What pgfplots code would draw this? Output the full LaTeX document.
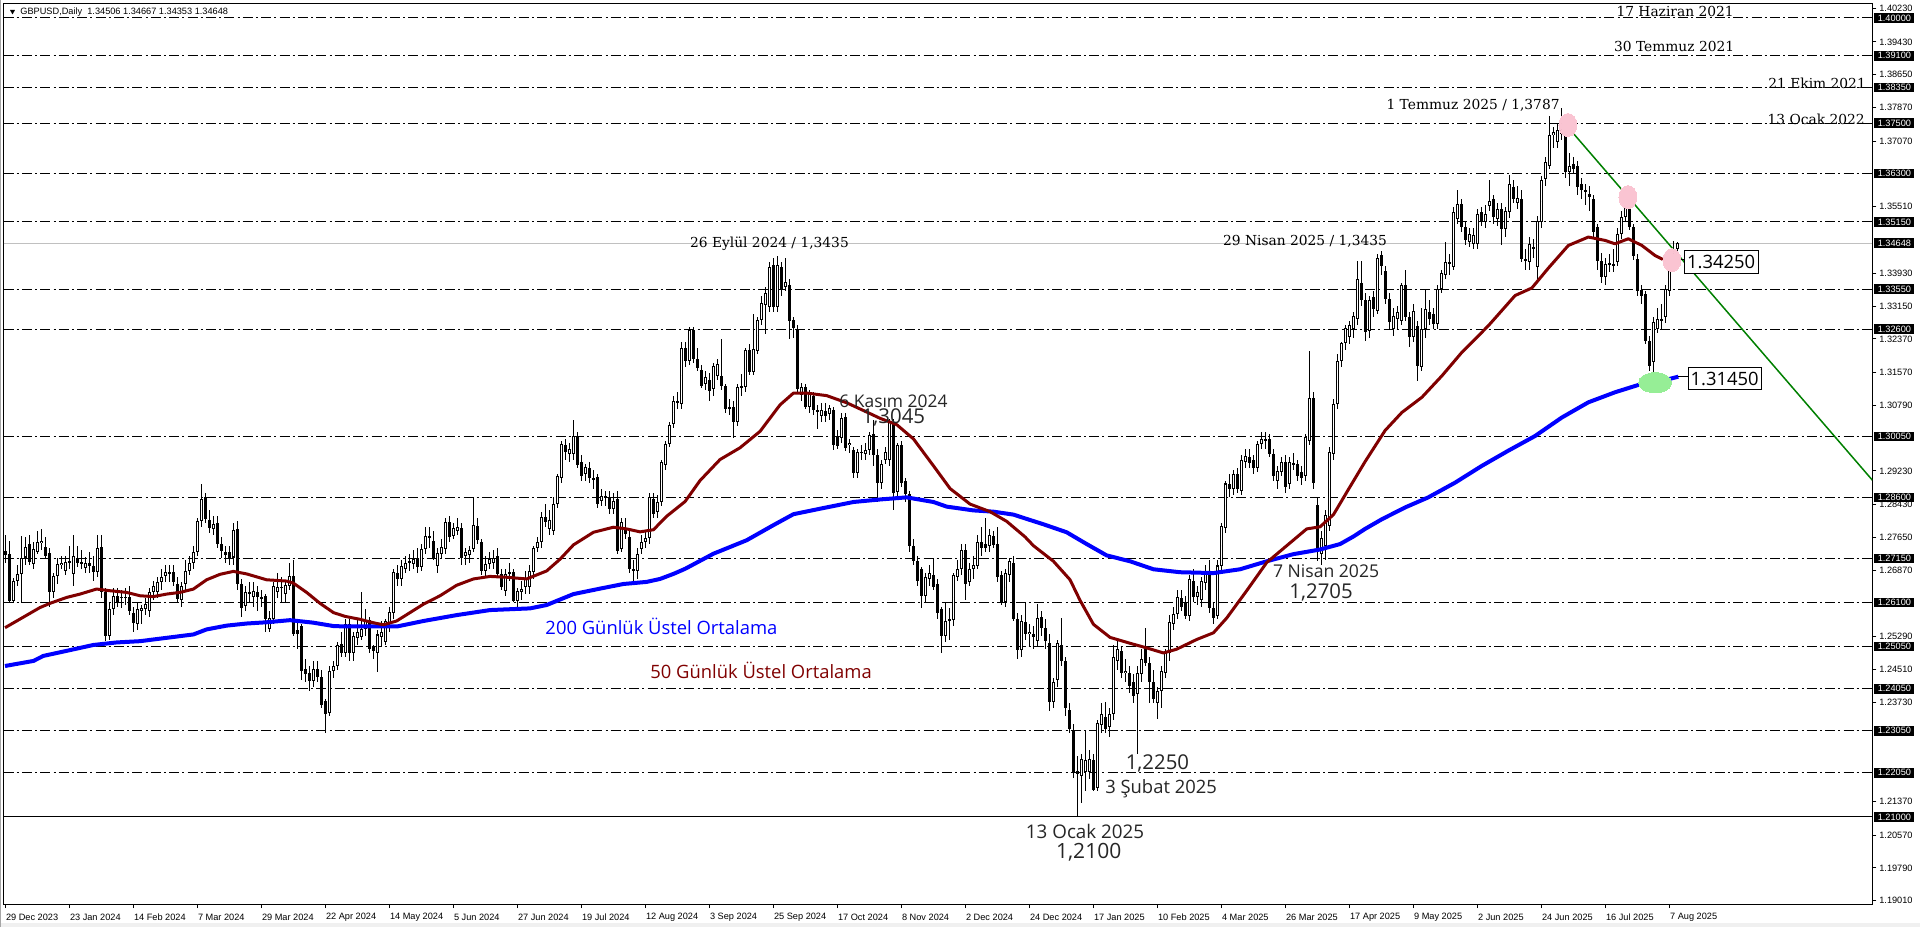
\documentclass[border=0pt]{standalone}
\usepackage{pgfplots}
\pgfplotsset{compat=1.18}
\usepackage{pgfplotstable}
\usepackage{fontspec}
\setmainfont{Liberation Sans}
\newfontfamily\segoe{Open Sans}
\newfontfamily\georgia{DejaVu Serif}
\definecolor{emared}{RGB}{128,0,0}
\definecolor{emablue}{RGB}{0,0,255}
\definecolor{trend}{RGB}{0,128,0}
\definecolor{pinkc}{RGB}{250,196,210}
\definecolor{greenc}{RGB}{150,238,150}
\definecolor{pricegrey}{RGB}{192,192,192}

\pgfplotstableread{
i o h l c
0 1.2733 1.2770 1.2705 1.2722
1 1.2725 1.2757 1.2612 1.2614
2 1.2614 1.2668 1.2610 1.2662
3 1.2662 1.2700 1.2650 1.2679
4 1.2679 1.2768 1.2610 1.2717
5 1.2717 1.2765 1.2700 1.2742
6 1.2750 1.2770 1.2700 1.2707
7 1.2701 1.2755 1.2690 1.2738
8 1.2731 1.2780 1.2725 1.2755
9 1.2752 1.2785 1.2735 1.2757
10 1.2742 1.2765 1.2715 1.2721
11 1.2729 1.2740 1.2600 1.2634
12 1.2634 1.2680 1.2620 1.2674
13 1.2674 1.2715 1.2655 1.2701
14 1.2700 1.2720 1.2690 1.2705
15 1.2685 1.2720 1.2675 1.2707
16 1.2706 1.2745 1.2690 1.2709
17 1.2677 1.2770 1.2650 1.2721
18 1.2717 1.2745 1.2695 1.2705
19 1.2703 1.2735 1.2690 1.2706
20 1.2693 1.2718 1.2680 1.2705
21 1.2705 1.2730 1.2680 1.2697
22 1.2697 1.2720 1.2660 1.2682
23 1.2682 1.2770 1.2670 1.2739
24 1.2741 1.2770 1.2620 1.2634
25 1.2634 1.2645 1.2518 1.2530
26 1.2530 1.2610 1.2520 1.2595
27 1.2594 1.2645 1.2580 1.2626
28 1.2626 1.2645 1.2600 1.2610
29 1.2620 1.2640 1.2598 1.2624
30 1.2624 1.2645 1.2605 1.2621
31 1.2622 1.2650 1.2580 1.2591
32 1.2586 1.2600 1.2540 1.2562
33 1.2558 1.2610 1.2545 1.2595
34 1.2590 1.2605 1.2560 1.2598
35 1.2594 1.2620 1.2580 1.2606
36 1.2590 1.2645 1.2575 1.2634
37 1.2634 1.2660 1.2615 1.2650
38 1.2634 1.2670 1.2620 1.2658
39 1.2658 1.2690 1.2640 1.2670
40 1.2674 1.2700 1.2660 1.2682
41 1.2682 1.2700 1.2660 1.2680
42 1.2683 1.2700 1.2650 1.2658
43 1.2654 1.2670 1.2610 1.2618
44 1.2616 1.2660 1.2600 1.2650
45 1.2654 1.2710 1.2640 1.2685
46 1.2685 1.2720 1.2675 1.2705
47 1.2705 1.2745 1.2690 1.2729
48 1.2729 1.2810 1.2720 1.2803
49 1.2803 1.2891 1.2790 1.2856
50 1.2860 1.2870 1.2800 1.2808
51 1.2806 1.2830 1.2775 1.2788
52 1.2784 1.2815 1.2770 1.2796
53 1.2799 1.2815 1.2740 1.2749
54 1.2749 1.2765 1.2715 1.2733
55 1.2731 1.2745 1.2705 1.2723
56 1.2729 1.2745 1.2700 1.2717
57 1.2717 1.2800 1.2700 1.2783
58 1.2784 1.2803 1.2640 1.2654
59 1.2654 1.2665 1.2575 1.2598
60 1.2602 1.2650 1.2590 1.2634
61 1.2634 1.2660 1.2610 1.2630
62 1.2622 1.2660 1.2600 1.2638
63 1.2634 1.2650 1.2590 1.2622
64 1.2622 1.2640 1.2600 1.2618
65 1.2626 1.2630 1.2540 1.2570
66 1.2546 1.2590 1.2540 1.2574
67 1.2570 1.2660 1.2560 1.2650
68 1.2636 1.2680 1.2620 1.2648
69 1.2648 1.2670 1.2610 1.2645
70 1.2630 1.2660 1.2610 1.2651
71 1.2650 1.2705 1.2640 1.2674
72 1.2674 1.2710 1.2530 1.2534
73 1.2545 1.2570 1.2500 1.2535
74 1.2554 1.2560 1.2425 1.2447
75 1.2451 1.2475 1.2420 1.2439
76 1.2443 1.2460 1.2400 1.2424
77 1.2424 1.2470 1.2410 1.2451
78 1.2451 1.2470 1.2420 1.2433
79 1.2433 1.2450 1.2360 1.2367
80 1.2375 1.2380 1.2300 1.2344
81 1.2348 1.2460 1.2340 1.2447
82 1.2447 1.2470 1.2430 1.2460
83 1.2460 1.2515 1.2450 1.2509
84 1.2511 1.2540 1.2480 1.2491
85 1.2491 1.2570 1.2480 1.2560
86 1.2560 1.2570 1.2470 1.2490
87 1.2490 1.2540 1.2470 1.2530
88 1.2525 1.2570 1.2510 1.2540
89 1.2527 1.2635 1.2520 1.2548
90 1.2546 1.2594 1.2530 1.2566
91 1.2568 1.2575 1.2490 1.2500
92 1.2505 1.2510 1.2475 1.2495
93 1.2491 1.2545 1.2445 1.2534
94 1.2527 1.2565 1.2505 1.2540
95 1.2515 1.2570 1.2510 1.2566
96 1.2562 1.2600 1.2540 1.2588
97 1.2586 1.2690 1.2570 1.2682
98 1.2680 1.2700 1.2650 1.2666
99 1.2666 1.2710 1.2650 1.2697
100 1.2690 1.2720 1.2680 1.2704
101 1.2704 1.2725 1.2685 1.2708
102 1.2701 1.2735 1.2690 1.2713
103 1.2715 1.2740 1.2680 1.2694
104 1.2694 1.2750 1.2685 1.2737
105 1.2737 1.2790 1.2725 1.2769
106 1.2767 1.2790 1.2740 1.2765
107 1.2757 1.2780 1.2710 1.2717
108 1.2697 1.2740 1.2680 1.2729
109 1.2725 1.2760 1.2715 1.2741
110 1.2737 1.2810 1.2725 1.2802
111 1.2801 1.2815 1.2755 1.2765
112 1.2769 1.2800 1.2760 1.2787
113 1.2781 1.2810 1.2770 1.2789
114 1.2787 1.2800 1.2700 1.2715
115 1.2720 1.2740 1.2700 1.2729
116 1.2723 1.2745 1.2705 1.2735
117 1.2737 1.2860 1.2730 1.2794
118 1.2793 1.2810 1.2750 1.2759
119 1.2755 1.2760 1.2675 1.2685
120 1.2685 1.2720 1.2670 1.2701
121 1.2701 1.2730 1.2690 1.2713
122 1.2705 1.2735 1.2690 1.2717
123 1.2720 1.2740 1.2670 1.2678
124 1.2678 1.2690 1.2640 1.2646
125 1.2638 1.2690 1.2625 1.2678
126 1.2680 1.2705 1.2660 1.2682
127 1.2683 1.2690 1.2610 1.2614
128 1.2614 1.2645 1.2600 1.2638
129 1.2635 1.2660 1.2615 1.2643
130 1.2646 1.2685 1.2630 1.2666
131 1.2646 1.2700 1.2630 1.2685
132 1.2682 1.2745 1.2665 1.2739
133 1.2739 1.2765 1.2730 1.2753
134 1.2753 1.2825 1.2740 1.2813
135 1.2813 1.2845 1.2790 1.2801
136 1.2785 1.2830 1.2770 1.2807
137 1.2781 1.2860 1.2770 1.2845
138 1.2845 1.2915 1.2835 1.2910
139 1.2906 1.2995 1.2895 1.2988
140 1.2985 1.3000 1.2950 1.2968
141 1.2964 1.2990 1.2945 1.2974
142 1.2964 1.3045 1.2950 1.3007
143 1.3007 1.3015 1.2930 1.2937
144 1.2945 1.2960 1.2900 1.2910
145 1.2916 1.2940 1.2900 1.2932
146 1.2930 1.2945 1.2895 1.2906
147 1.2906 1.2925 1.2880 1.2902
148 1.2908 1.2915 1.2835 1.2845
149 1.2852 1.2880 1.2840 1.2864
150 1.2864 1.2875 1.2840 1.2858
151 1.2860 1.2875 1.2820 1.2833
152 1.2833 1.2870 1.2820 1.2852
153 1.2856 1.2875 1.2725 1.2733
154 1.2737 1.2810 1.2730 1.2802
155 1.2785 1.2810 1.2760 1.2773
156 1.2765 1.2780 1.2680 1.2690
157 1.2690 1.2710 1.2662 1.2686
158 1.2685 1.2740 1.2665 1.2725
159 1.2737 1.2770 1.2725 1.2755
160 1.2755 1.2780 1.2740 1.2763
161 1.2763 1.2870 1.2750 1.2860
162 1.2856 1.2870 1.2810 1.2821
163 1.2826 1.2865 1.2810 1.2850
164 1.2850 1.2950 1.2840 1.2944
165 1.2936 1.2995 1.2925 1.2988
166 1.2988 1.3040 1.2980 1.3031
167 1.3035 1.3100 1.3025 1.3089
168 1.3089 1.3110 1.3070 1.3085
169 1.3083 1.3230 1.3070 1.3216
170 1.3215 1.3230 1.3170 1.3185
171 1.3185 1.3265 1.3175 1.3259
172 1.3259 1.3265 1.3180 1.3190
173 1.3190 1.3215 1.3160 1.3168
174 1.3163 1.3175 1.3120 1.3126
175 1.3129 1.3160 1.3115 1.3146
176 1.3140 1.3155 1.3090 1.3113
177 1.3117 1.3180 1.3100 1.3172
178 1.3149 1.3190 1.3140 1.3177
179 1.3149 1.3236 1.3115 1.3126
180 1.3125 1.3130 1.3060 1.3070
181 1.3072 1.3095 1.3055 1.3074
182 1.3076 1.3090 1.3002 1.3040
183 1.3040 1.3130 1.3030 1.3122
184 1.3120 1.3154 1.3100 1.3124
185 1.3122 1.3215 1.3110 1.3211
186 1.3210 1.3225 1.3150 1.3158
187 1.3158 1.3297 1.3150 1.3213
188 1.3208 1.3290 1.3200 1.3281
189 1.3281 1.3340 1.3270 1.3322
190 1.3318 1.3360 1.3249 1.3345
191 1.3313 1.3420 1.3300 1.3409
192 1.3413 1.3430 1.3300 1.3313
193 1.3313 1.3434 1.3300 1.3412
194 1.3409 1.3420 1.3340 1.3356
195 1.3360 1.3430 1.3350 1.3372
196 1.3366 1.3380 1.3236 1.3279
197 1.3281 1.3290 1.3240 1.3263
198 1.3260 1.3270 1.3110 1.3117
199 1.3104 1.3133 1.3090 1.3122
200 1.3122 1.3130 1.3070 1.3076
201 1.3076 1.3115 1.3060 1.3106
202 1.3102 1.3110 1.3055 1.3067
203 1.3067 1.3080 1.3022 1.3063
204 1.3054 1.3085 1.3040 1.3069
205 1.3065 1.3085 1.3040 1.3054
206 1.3058 1.3080 1.3045 1.3072
207 1.3067 1.3075 1.2972 1.2985
208 1.3005 1.3020 1.2975 1.2983
209 1.3001 1.3060 1.2990 1.3049
210 1.3051 1.3060 1.2970 1.2978
211 1.2985 1.3000 1.2965 1.2990
212 1.2972 1.2980 1.2905 1.2917
213 1.2917 1.2975 1.2905 1.2969
214 1.2969 1.2985 1.2950 1.2965
215 1.2963 1.2990 1.2950 1.2973
216 1.2972 1.3015 1.2960 1.3008
217 1.3010 1.3043 1.2935 1.2960
218 1.2960 1.2975 1.2849 1.2894
219 1.2894 1.2950 1.2880 1.2940
220 1.2949 1.2980 1.2940 1.2969
221 1.2949 1.3047 1.2935 1.3040
222 1.3040 1.3047 1.2831 1.2871
223 1.2874 1.2990 1.2860 1.2985
224 1.2985 1.2995 1.2885 1.2894
225 1.2899 1.2905 1.2850 1.2867
226 1.2867 1.2875 1.2730 1.2744
227 1.2744 1.2760 1.2700 1.2708
228 1.2708 1.2720 1.2650 1.2662
229 1.2689 1.2695 1.2598 1.2626
230 1.2626 1.2680 1.2610 1.2671
231 1.2667 1.2700 1.2650 1.2680
232 1.2676 1.2714 1.2640 1.2648
233 1.2653 1.2665 1.2570 1.2585
234 1.2594 1.2600 1.2489 1.2530
235 1.2530 1.2612 1.2515 1.2566
236 1.2566 1.2598 1.2520 1.2570
237 1.2568 1.2680 1.2555 1.2676
238 1.2671 1.2710 1.2660 1.2689
239 1.2689 1.2750 1.2675 1.2735
240 1.2735 1.2750 1.2616 1.2653
241 1.2660 1.2705 1.2650 1.2690
242 1.2690 1.2720 1.2665 1.2700
243 1.2698 1.2771 1.2690 1.2753
244 1.2755 1.2790 1.2720 1.2739
245 1.2750 1.2811 1.2730 1.2739
246 1.2744 1.2785 1.2730 1.2771
247 1.2768 1.2780 1.2740 1.2748
248 1.2748 1.2790 1.2660 1.2671
249 1.2676 1.2685 1.2605 1.2612
250 1.2612 1.2690 1.2600 1.2680
251 1.2676 1.2715 1.2660 1.2708
252 1.2705 1.2720 1.2565 1.2571
253 1.2571 1.2585 1.2475 1.2498
254 1.2498 1.2580 1.2480 1.2566
255 1.2564 1.2610 1.2520 1.2536
256 1.2536 1.2560 1.2505 1.2541
257 1.2536 1.2555 1.2500 1.2527
258 1.2518 1.2606 1.2505 1.2573
259 1.2576 1.2590 1.2530 1.2550
260 1.2550 1.2570 1.2500 1.2518
261 1.2513 1.2535 1.2351 1.2374
262 1.2374 1.2430 1.2360 1.2421
263 1.2425 1.2520 1.2410 1.2513
264 1.2508 1.2573 1.2460 1.2470
265 1.2470 1.2480 1.2340 1.2360
266 1.2355 1.2370 1.2300 1.2309
267 1.2305 1.2320 1.2193 1.2207
268 1.2209 1.2244 1.2100 1.2202
269 1.2197 1.2250 1.2133 1.2239
270 1.2207 1.2305 1.2161 1.2235
271 1.2207 1.2260 1.2190 1.2239
272 1.2235 1.2250 1.2161 1.2165
273 1.2170 1.2330 1.2161 1.2323
274 1.2318 1.2370 1.2300 1.2346
275 1.2338 1.2374 1.2300 1.2309
276 1.2314 1.2360 1.2290 1.2346
277 1.2346 1.2508 1.2330 1.2481
278 1.2470 1.2520 1.2450 1.2499
279 1.2494 1.2505 1.2430 1.2443
280 1.2443 1.2475 1.2420 1.2448
281 1.2443 1.2460 1.2395 1.2411
282 1.2421 1.2440 1.2370 1.2388
283 1.2392 1.2460 1.2249 1.2443
284 1.2439 1.2500 1.2420 1.2475
285 1.2504 1.2550 1.2460 1.2467
286 1.2467 1.2480 1.2370 1.2420
287 1.2420 1.2450 1.2370 1.2380
288 1.2370 1.2410 1.2332 1.2400
289 1.2400 1.2460 1.2360 1.2448
290 1.2443 1.2500 1.2430 1.2489
291 1.2489 1.2580 1.2470 1.2564
292 1.2559 1.2600 1.2545 1.2583
293 1.2583 1.2640 1.2570 1.2624
294 1.2620 1.2640 1.2590 1.2600
295 1.2610 1.2625 1.2570 1.2578
296 1.2578 1.2675 1.2565 1.2666
297 1.2661 1.2690 1.2610 1.2624
298 1.2624 1.2650 1.2605 1.2634
299 1.2615 1.2670 1.2600 1.2661
300 1.2657 1.2700 1.2640 1.2685
301 1.2685 1.2710 1.2585 1.2596
302 1.2596 1.2610 1.2559 1.2573
303 1.2578 1.2710 1.2570 1.2698
304 1.2698 1.2800 1.2685 1.2791
305 1.2787 1.2900 1.2775 1.2893
306 1.2893 1.2915 1.2860 1.2880
307 1.2880 1.2925 1.2865 1.2916
308 1.2916 1.2930 1.2870 1.2880
309 1.2875 1.2960 1.2865 1.2949
310 1.2944 1.2975 1.2930 1.2958
311 1.2956 1.2975 1.2930 1.2941
312 1.2949 1.2960 1.2915 1.2930
313 1.2930 1.2995 1.2920 1.2988
314 1.2986 1.3015 1.2975 1.3000
315 1.2998 1.3015 1.2975 1.2995
316 1.3000 1.3010 1.2955 1.2963
317 1.2963 1.2975 1.2900 1.2912
318 1.2898 1.2935 1.2880 1.2923
319 1.2921 1.2955 1.2910 1.2944
320 1.2944 1.2960 1.2870 1.2884
321 1.2893 1.2955 1.2880 1.2944
322 1.2941 1.2965 1.2925 1.2940
323 1.2940 1.2950 1.2900 1.2912
324 1.2921 1.2935 1.2890 1.2907
325 1.2912 1.3010 1.2900 1.3004
326 1.2995 1.3207 1.2985 1.3097
327 1.3097 1.3110 1.2880 1.2893
328 1.2842 1.2860 1.2708 1.2736
329 1.2726 1.2780 1.2700 1.2763
330 1.2744 1.2830 1.2710 1.2819
331 1.2791 1.2980 1.2780 1.2967
332 1.2963 1.3095 1.2950 1.3083
333 1.3083 1.3200 1.3070 1.3185
334 1.3185 1.3230 1.3170 1.3227
335 1.3227 1.3270 1.3210 1.3264
336 1.3241 1.3280 1.3225 1.3269
337 1.3260 1.3300 1.3240 1.3292
338 1.3283 1.3423 1.3270 1.3380
339 1.3371 1.3422 1.3315 1.3329
340 1.3329 1.3345 1.3233 1.3253
341 1.3255 1.3340 1.3240 1.3330
342 1.3336 1.3350 1.3290 1.3308
343 1.3304 1.3439 1.3295 1.3430
344 1.3437 1.3445 1.3390 1.3411
345 1.3399 1.3410 1.3320 1.3332
346 1.3332 1.3345 1.3260 1.3276
347 1.3260 1.3310 1.3245 1.3292
348 1.3285 1.3315 1.3260 1.3300
349 1.3280 1.3370 1.3270 1.3364
350 1.3364 1.3400 1.3280 1.3288
351 1.3288 1.3300 1.3217 1.3241
352 1.3241 1.3320 1.3230 1.3304
353 1.3268 1.3280 1.3137 1.3173
354 1.3169 1.3310 1.3160 1.3260
355 1.3260 1.3356 1.3240 1.3308
356 1.3300 1.3330 1.3270 1.3284
357 1.3296 1.3310 1.3260 1.3272
358 1.3272 1.3365 1.3260 1.3356
359 1.3356 1.3400 1.3345 1.3393
360 1.3388 1.3467 1.3380 1.3419
361 1.3419 1.3440 1.3390 1.3415
362 1.3407 1.3550 1.3400 1.3538
363 1.3522 1.3590 1.3510 1.3558
364 1.3558 1.3570 1.3490 1.3504
365 1.3504 1.3515 1.3460 1.3471
366 1.3467 1.3500 1.3455 1.3487
367 1.3463 1.3500 1.3450 1.3483
368 1.3463 1.3545 1.3450 1.3534
369 1.3538 1.3550 1.3505 1.3514
370 1.3514 1.3555 1.3500 1.3534
371 1.3554 1.3614 1.3540 1.3566
372 1.3570 1.3580 1.3510 1.3526
373 1.3522 1.3560 1.3505 1.3546
374 1.3546 1.3560 1.3460 1.3498
375 1.3498 1.3550 1.3480 1.3542
376 1.3538 1.3626 1.3525 1.3606
377 1.3598 1.3615 1.3560 1.3570
378 1.3560 1.3600 1.3545 1.3572
379 1.3570 1.3590 1.3420 1.3427
380 1.3427 1.3450 1.3400 1.3423
381 1.3419 1.3480 1.3400 1.3463
382 1.3455 1.3475 1.3430 1.3450
383 1.3407 1.3530 1.3376 1.3518
384 1.3514 1.3625 1.3500 1.3614
385 1.3617 1.3670 1.3600 1.3657
386 1.3649 1.3768 1.3640 1.3721
387 1.3721 1.3740 1.3690 1.3729
388 1.3705 1.3750 1.3690 1.3733
389 1.3725 1.3787 1.3710 1.3744
390 1.3748 1.3760 1.3620 1.3633
391 1.3633 1.3680 1.3600 1.3649
392 1.3653 1.3670 1.3630 1.3641
393 1.3649 1.3660 1.3580 1.3598
394 1.3606 1.3620 1.3570 1.3590
395 1.3590 1.3605 1.3555 1.3586
396 1.3582 1.3600 1.3540 1.3574
397 1.3570 1.3580 1.3480 1.3491
398 1.3502 1.3510 1.3400 1.3423
399 1.3423 1.3440 1.3370 1.3385
400 1.3385 1.3430 1.3365 1.3415
401 1.3415 1.3440 1.3395 1.3417
402 1.3411 1.3450 1.3395 1.3415
403 1.3419 1.3500 1.3410 1.3487
404 1.3487 1.3540 1.3475 1.3526
405 1.3526 1.3590 1.3515 1.3570
406 1.3574 1.3590 1.3495 1.3502
407 1.3502 1.3510 1.3425 1.3435
408 1.3427 1.3440 1.3340 1.3352
409 1.3352 1.3365 1.3320 1.3340
410 1.3344 1.3350 1.3225 1.3233
411 1.3233 1.3245 1.3160 1.3173
412 1.3181 1.3290 1.3134 1.3276
413 1.3260 1.3310 1.3250 1.3284
414 1.3280 1.3320 1.3260 1.3284
415 1.3288 1.3365 1.3275 1.3356
416 1.3352 1.3445 1.3340 1.3439
417 1.3435 1.3470 1.3420 1.3447
418 1.34506 1.34667 1.34353 1.34648
}\candles

\begin{document}
\begin{tikzpicture}
\useasboundingbox (-1.75pt,-11.5pt) rectangle (958.25pt,452pt);
\fill[white] (-1.75pt,-11.5pt) rectangle (958.25pt,452pt);
\fill[black!6] (-1.75pt,-11.5pt) rectangle (958.25pt,-9.5pt);
\draw[black!35, line width=0.5pt] (-1.5pt,-11.5pt) -- (-1.5pt,452pt);
\begin{axis}[
  at={(0,0)}, anchor=south west,
  scale only axis, width=934.4pt, height=450pt,
  xmin=-0.375, xmax=466.8,
  ymin=1.189298, ymax=1.403329,
  axis line style={black, line width=0.5pt},
  tick align=outside, major tick length=2pt,
  tick style={black, line width=0.5pt},
  xtick pos=bottom, ytick pos=right, yticklabel pos=right,
  xtick={0,16,...,416},
  xticklabels={29 Dec 2023,23 Jan 2024,14 Feb 2024,7 Mar 2024,29 Mar 2024,22 Apr 2024,14 May 2024,5 Jun 2024,27 Jun 2024,19 Jul 2024,12 Aug 2024,3 Sep 2024,25 Sep 2024,17 Oct 2024,8 Nov 2024,2 Dec 2024,24 Dec 2024,17 Jan 2025,10 Feb 2025,4 Mar 2025,26 Mar 2025,17 Apr 2025,9 May 2025,2 Jun 2025,24 Jun 2025,16 Jul 2025,7 Aug 2025},
  xticklabel style={anchor=west, inner sep=0pt, font=\fontsize{4.6pt}{5pt}\selectfont, yshift=-4.5pt, xshift=0.3pt},
  ytick={1.19010,1.19790,1.20570,1.21370,1.23730,1.24510,1.25290,1.26870,1.27650,1.28430,1.29230,1.30790,1.31570,1.32370,1.33150,1.33930,1.35510,1.37070,1.37870,1.38650,1.39430,1.40230},
  yticklabels={1.19010,1.19790,1.20570,1.21370,1.23730,1.24510,1.25290,1.26870,1.27650,1.28430,1.29230,1.30790,1.31570,1.32370,1.33150,1.33930,1.35510,1.37070,1.37870,1.38650,1.39430,1.40230},
  yticklabel style={anchor=west, inner sep=0pt, font=\fontsize{4.6pt}{5pt}\selectfont, xshift=1.3pt},
  candle/.style={forget plot, only marks, mark=*, mark size=0pt, mark options={draw=none, fill=none},
    error bars/.cd, y dir=both, y explicit, error mark=none},
]
% horizontal levels
\pgfplotsinvokeforeach{1.40,1.391,1.3835,1.375,1.363,1.3515,1.3355,1.326,1.3005,1.286,1.2715,1.261,1.2505,1.2405,1.2305,1.2205}{
  \addplot[forget plot, black, line width=0.5pt, dash pattern=on 5pt off 1.6pt on 1pt off 1.6pt] coordinates {(-0.375,#1) (466.8,#1)};
}
\addplot[forget plot, black, line width=0.5pt] coordinates {(-0.375,1.21) (466.8,1.21)};
\addplot[forget plot, pricegrey, line width=0.5pt] coordinates {(-0.375,1.34648) (466.8,1.34648)};
% highlight ellipses
\addplot[forget plot, only marks, mark=*, mark size=5.75pt, mark options={fill=pinkc, draw=pinkc, line width=0pt, xscale=0.78}] coordinates {(390.7,1.37455) (405.7,1.3574) (416.7,1.3424)};
\addplot[forget plot, only marks, mark=*, mark size=5pt, mark options={fill=greenc, draw=greenc, line width=0pt, xscale=1.65}] coordinates {(412.5,1.31327)};
% wicks
\addplot[candle, error bar style={black, solid, line width=0.5pt}]
  table[x=i, y expr={(\thisrow{h}+\thisrow{l})/2}, y error expr={(\thisrow{h}-\thisrow{l})/2}] {\candles};
% bodies
\addplot[candle, error bar style={black, solid, line width=1.5pt}]
  table[x=i, y expr={(\thisrow{o}+\thisrow{c})/2}, y error expr={max(abs(\thisrow{c}-\thisrow{o})/2,0.00012)}] {\candles};
% hollow interiors of rising candles
\addplot[candle, error bar style={white, solid, line width=0.5pt}]
  table[x=i, y expr={(\thisrow{o}+\thisrow{c})/2}, y error expr={max((\thisrow{c}-\thisrow{o})/2-0.00024,0)}] {\candles};
% 200 EMA
\addplot[forget plot, emablue, line width=2pt, line join=round] coordinates {
(0,1.2459) (7.1,1.2471) (9.6,1.2483) (15.4,1.2495) (22.1,1.2509) (27.9,1.2515) (33.75,1.2518) (40.4,1.2526) (47.1,1.2534) (50.4,1.2546) (55.4,1.2555) (60.4,1.2560) (65.4,1.2563) (71.25,1.2568) (77.1,1.2562) (82.1,1.2554) (85,1.2553) (98,1.2553) (104.6,1.2566) (112.9,1.2580) (121.25,1.2592) (131.25,1.2596) (135.4,1.2604) (142.1,1.2630) (148.75,1.2643) (154.6,1.2654) (160.4,1.2659) (163.75,1.2666) (167.1,1.2678) (170,1.2690) (177.1,1.2726) (185.4,1.2758) (192.1,1.2794) (197.1,1.2820) (203.75,1.2833) (212.1,1.2849) (218.75,1.2855) (225.4,1.2860) (232.1,1.2849) (235.4,1.2838) (242.1,1.2829) (247.1,1.2826) (252.1,1.2819) (255,1.2810) (259.6,1.2796) (265.4,1.2777) (270.4,1.2749) (275.4,1.2722) (281.25,1.2708) (287.1,1.2689) (293.75,1.2682) (302.1,1.2680) (308.75,1.2689) (315.4,1.2708) (322.1,1.2725) (328.75,1.2736) (333.75,1.2749) (337.1,1.2767) (340,1.2785) (344.2,1.2808) (350,1.2836) (355.8,1.2860) (362.5,1.2895) (369.2,1.2935) (375.8,1.2971) (382.5,1.3006) (389.2,1.3050) (395.8,1.3086) (402.5,1.3110) (409.2,1.3130) (414.2,1.3137) (418.3,1.3147)};
% 50 EMA
\addplot[forget plot, emared, line width=1.5pt, line join=round] coordinates {
(0,1.2550) (8.75,1.2598) (11.25,1.2608) (15.4,1.2622) (18.75,1.2630) (22.9,1.2642) (26.25,1.2638) (30.4,1.2634) (33.75,1.2626) (37.1,1.2624) (40.4,1.2630) (43.75,1.2634) (47.1,1.2642) (50.4,1.2664) (53.75,1.2677) (57.1,1.2684) (60.4,1.2678) (65.4,1.2664) (70.4,1.2661) (72.1,1.2656) (75.4,1.2634) (78.75,1.2608) (82.1,1.2586) (85,1.2577) (88.75,1.2570) (92,1.2562) (94.6,1.2557) (97.9,1.2566) (104.6,1.2606) (108.75,1.2626) (112.9,1.2651) (117.1,1.2666) (121.25,1.2672) (125.4,1.2670) (130.4,1.2666) (135.4,1.2685) (138.75,1.2713) (142.1,1.2747) (147.1,1.2777) (152.1,1.2789) (155.4,1.2785) (158.75,1.2778) (162.1,1.2783) (165.4,1.2815) (170,1.2850) (173.75,1.2900) (178.75,1.2950) (183.75,1.2978) (188.75,1.3017) (193.75,1.3080) (197.1,1.3108) (200.4,1.3108) (205.4,1.3102) (210.4,1.3085) (215.4,1.3063) (218.75,1.3048) (222.9,1.3033) (227.1,1.2999) (232.1,1.2935) (236.25,1.2881) (241.25,1.2844) (246.25,1.2826) (250.4,1.2803) (255,1.2766) (257.1,1.2745) (262.1,1.2708) (266.25,1.2664) (268.75,1.2615) (272.1,1.2558) (276.25,1.2527) (281.25,1.2513) (285.4,1.2502) (289.6,1.2490) (292.9,1.2499) (297.9,1.2522) (302.1,1.2538) (305.4,1.2573) (310.4,1.2638) (315.4,1.2705) (320.4,1.2745) (325.4,1.2785) (328.75,1.2790) (332.1,1.2819) (335.4,1.2872) (340,1.2945) (345,1.3019) (349.2,1.3062) (354.2,1.3098) (359.2,1.3149) (364.2,1.3205) (370.8,1.3268) (377.5,1.3340) (381.7,1.3358) (385.8,1.3405) (390.8,1.3459) (395.8,1.3479) (400,1.3471) (402.5,1.3463) (405.8,1.3475) (409.2,1.3459) (412.5,1.3435) (415,1.3423) (418.3,1.3425)};
% trend line
\addplot[forget plot, trend, line width=0.75pt] coordinates {(390.25,1.37455) (466.8,1.2901)};
% connectors to value boxes
\addplot[forget plot, black, line width=0.5pt] coordinates {(418.3,1.3425) (419.75,1.3425)};
\addplot[forget plot, black, line width=0.5pt] coordinates {(418.3,1.3147) (420.75,1.3147)};
% annotations
\node[font=\georgia\fontsize{6.9pt}{8pt}\selectfont, inner sep=0pt] at (axis cs:417.5,1.40166) {17 Haziran 2021};
\node[font=\georgia\fontsize{6.9pt}{8pt}\selectfont, inner sep=0pt] at (axis cs:417.25,1.39322) {30 Temmuz 2021};
\node[font=\georgia\fontsize{6.9pt}{8pt}\selectfont, inner sep=0pt] at (axis cs:453,1.38454) {21 Ekim 2021};
\node[font=\georgia\fontsize{6.9pt}{8pt}\selectfont, inner sep=0pt] at (axis cs:452.75,1.37598) {13 Ocak 2022};
\node[font=\georgia\fontsize{6.9pt}{8pt}\selectfont, inner sep=0pt] at (axis cs:367,1.37931) {1 Temmuz 2025 / 1,3787};
\node[font=\georgia\fontsize{6.9pt}{8pt}\selectfont, inner sep=0pt] at (axis cs:191.1,1.34625) {26 Eylül 2024 / 1,3435};
\node[font=\georgia\fontsize{6.9pt}{8pt}\selectfont, inner sep=0pt] at (axis cs:325,1.34697) {29 Nisan 2025 / 1,3435};
\node[font=\segoe\fontsize{8.7pt}{10pt}\selectfont, inner sep=0pt, text=black!85] at (axis cs:222.1,1.30892) {6 Kasım 2024};
\node[font=\segoe\fontsize{10.2pt}{11pt}\selectfont, inner sep=0pt, text=black!85] at (axis cs:222.1,1.30495) {1,3045};
\node[font=\segoe\fontsize{8.8pt}{10pt}\selectfont, inner sep=0pt, text=black!85] at (axis cs:330.25,1.26835) {7 Nisan 2025};
\node[font=\segoe\fontsize{10.2pt}{11pt}\selectfont, inner sep=0pt, text=black!85] at (axis cs:329,1.2635) {1,2705};
\node[font=\segoe\fontsize{10.2pt}{11pt}\selectfont, inner sep=0pt, text=black!85] at (axis cs:288.1,1.22267) {1,2250};
\node[font=\segoe\fontsize{9.2pt}{10pt}\selectfont, inner sep=0pt, text=black!85] at (axis cs:289,1.21674) {3 Şubat 2025};
\node[font=\segoe\fontsize{9.4pt}{10pt}\selectfont, inner sep=0pt, text=black!85] at (axis cs:270,1.20654) {13 Ocak 2025};
\node[font=\segoe\fontsize{10.5pt}{11pt}\selectfont, inner sep=0pt, text=black!85] at (axis cs:270.9,1.20167) {1,2100};
\node[font=\segoe\fontsize{9.2pt}{10pt}\selectfont, inner sep=0pt, text=emablue] at (axis cs:164.1,1.25529) {200 Günlük Üstel Ortalama};
\node[font=\segoe\fontsize{9.2pt}{10pt}\selectfont, inner sep=0pt, text=emared] at (axis cs:189,1.24483) {50 Günlük Üstel Ortalama};
\node[draw=black, fill=white, line width=0.5pt, minimum width=37pt, minimum height=11.5pt, inner sep=0pt, font=\segoe\fontsize{9.2pt}{10pt}\selectfont] at (axis cs:429,1.34209) {1.34250};
\node[draw=black, fill=white, line width=0.5pt, minimum width=36.5pt, minimum height=11pt, inner sep=0pt, font=\segoe\fontsize{9.2pt}{10pt}\selectfont] at (axis cs:429.9,1.31415) {1.31450};
\end{axis}
% price boxes on the right scale
\foreach \v in {1.40000,1.39100,1.38350,1.37500,1.36300,1.35150,1.34648,1.33550,1.32600,1.30050,1.28600,1.27150,1.26100,1.25050,1.24050,1.23050,1.22050,1.21000}{
  \node[anchor=west, fill=black, text=white, inner sep=0pt, minimum width=20pt, minimum height=4.8pt, font=\fontsize{4.6pt}{5pt}\selectfont] at (935.25pt,{(\v-1.189298)*2102.5pt}) {\v};
}
% header
\fill[black] (3.25pt,447pt) -- (5.75pt,447pt) -- (4.5pt,444.8pt) -- cycle;
\node[anchor=west, inner sep=0pt, font=\fontsize{4.6pt}{5pt}\selectfont] at (8.25pt,445.75pt) {GBPUSD,Daily\ \ 1.34506 1.34667 1.34353 1.34648};
\end{tikzpicture}
\end{document}
